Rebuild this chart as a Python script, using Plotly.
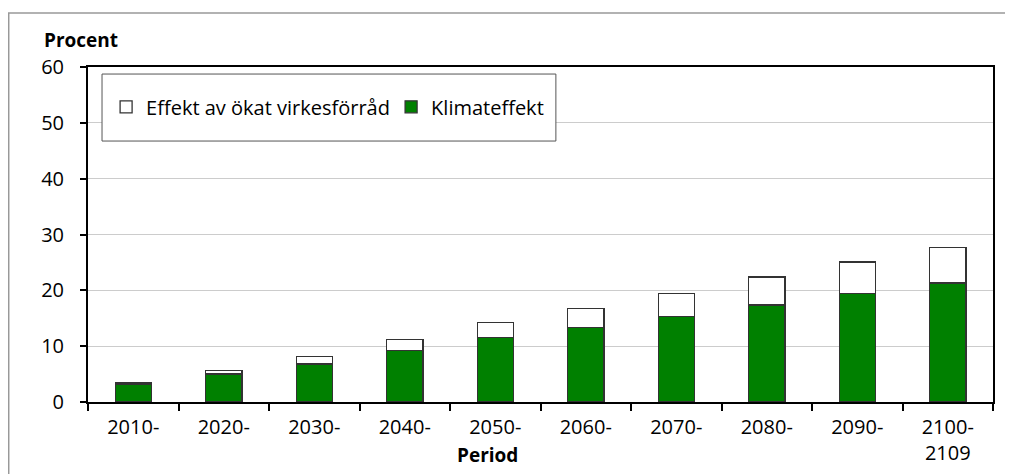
import plotly.graph_objects as go

perioder = ["2010-", "2020-", "2030-", "2040-", "2050-", "2060-",
            "2070-", "2080-", "2090-", "2100-<br>2109"]
klimateffekt = [3.1, 5.0, 6.8, 9.2, 11.6, 13.3, 15.3, 17.4, 19.4, 21.3]
totalt = [3.4, 5.7, 8.2, 11.2, 14.3, 16.7, 19.4, 22.4, 25.1, 27.7]
# vit del = total - klimateffekt
virkesforrad = [round(t - k, 2) for t, k in zip(totalt, klimateffekt)]

y_ticks = [0, 10, 20, 30, 40, 50, 60]

FONT = "Open Sans"
kant = "#333333"

fig = go.Figure()
fig.add_trace(go.Bar(
    x=perioder, y=klimateffekt, name="Klimateffekt",
    marker=dict(color="#008000", line=dict(color=kant, width=1.3)),
    hoverinfo="skip",
))
fig.add_trace(go.Bar(
    x=perioder, y=virkesforrad, name="Effekt av ökat virkesförråd",
    marker=dict(color="white", line=dict(color=kant, width=1.3)),
    hoverinfo="skip",
))

# sidan har 8 px marginal i webbläsaren, därför 1005 x 466
fig.update_layout(
    width=1005, height=466,
    margin=dict(l=80, r=20, t=59, b=72),
    barmode="stack", bargap=0.6,
    paper_bgcolor="white", plot_bgcolor="white",
    font=dict(family=FONT, size=20, color="black"),
    showlegend=True,
    legend=dict(
        orientation="h", traceorder="reversed",
        x=0.020, y=0.881, xanchor="left", yanchor="middle",
        bgcolor="rgba(0,0,0,0)", borderwidth=0,
        font=dict(family=FONT, size=20),
        entrywidth=240,
    ),
)

fig.update_xaxes(
    showline=True, linecolor="black", linewidth=2, mirror=True,
    ticks="outside", tickson="boundaries", ticklen=7, tickwidth=1.5,
    tickcolor="black", showgrid=False, automargin=False,
    tickfont=dict(family=FONT, size=20),
    ticklabelstandoff=6,
)
fig.update_yaxes(
    range=[0, 60], tickvals=y_ticks,
    showline=True, linecolor="black", linewidth=2, mirror=True,
    ticks="outside", ticklen=6, tickwidth=1.5, tickcolor="black",
    showgrid=True, gridcolor="#cccccc", gridwidth=1,
    zeroline=False, automargin=False,
    tickfont=dict(family=FONT, size=20),
    ticklabelstandoff=12,
)

# ram kring hela diagrammet
fig.add_shape(type="rect", xref="paper", yref="paper",
              x0=-0.0876, x1=1.1, y0=-0.4, y1=1.161,
              line=dict(color="#999999", width=1.5), fillcolor="rgba(0,0,0,0)",
              layer="below")
# legendruta
fig.add_shape(type="rect", xref="paper", yref="paper",
              x0=0.0155, x1=0.517, y0=0.779, y1=0.979,
              line=dict(color="#555555", width=1), fillcolor="white",
              layer="above")

fig.add_annotation(text="<b>Procent</b>", xref="paper", yref="paper",
                   x=-0.0072, y=1.08, xanchor="center", yanchor="middle",
                   showarrow=False, font=dict(family=FONT, size=19))
fig.add_annotation(text="<b>Period</b>", xref="paper", yref="paper",
                   x=0.441, y=-0.158, xanchor="center", yanchor="middle",
                   showarrow=False, font=dict(family=FONT, size=19))

fig.write_html("out.html")
